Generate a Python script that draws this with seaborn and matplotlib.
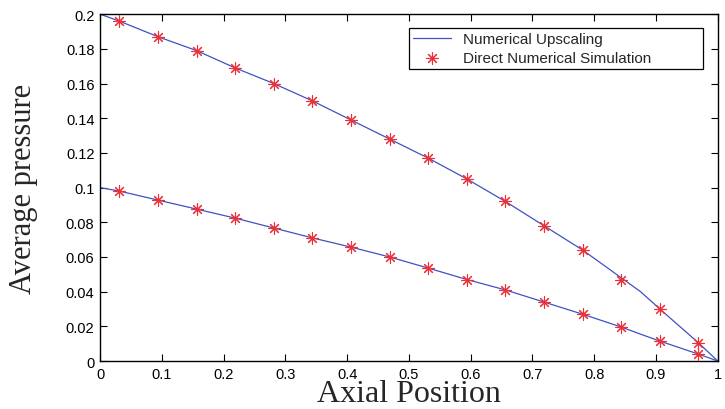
import numpy as np
import pandas as pd
import matplotlib
matplotlib.use("Agg")
import matplotlib.pyplot as plt
import seaborn as sns

# Data
x_pts = [0.03125, 0.09375, 0.15625, 0.21875, 0.28125, 0.34375, 0.40625, 0.46875,
         0.53125, 0.59375, 0.65625, 0.71875, 0.78125, 0.84375, 0.90625, 0.96875]
upper_dns = [0.196, 0.187, 0.179, 0.169, 0.160, 0.150, 0.139, 0.128,
             0.117, 0.105, 0.092, 0.078, 0.064, 0.047, 0.030, 0.0105]
lower_dns = [0.098, 0.0928, 0.0876, 0.0824, 0.0767, 0.071, 0.0657, 0.060,
             0.0536, 0.047, 0.041, 0.034, 0.027, 0.0196, 0.0115, 0.004]

x_line = [0.0, 0.03125, 0.09375, 0.15625, 0.21875, 0.28125, 0.34375, 0.40625, 0.46875,
          0.53125, 0.59375, 0.65625, 0.71875, 0.78125, 0.84375, 0.875, 0.90625, 0.96875, 1.0]
upper_line = [0.2, 0.196, 0.187, 0.179, 0.169, 0.160, 0.150, 0.139, 0.128,
              0.117, 0.105, 0.092, 0.078, 0.064, 0.048, 0.040, 0.030, 0.0105, 0.0]
lower_line = [0.1, 0.098, 0.0928, 0.0876, 0.0824, 0.0767, 0.071, 0.0657, 0.060,
              0.0536, 0.047, 0.041, 0.034, 0.027, 0.0196, 0.0155, 0.0115, 0.004, 0.0]

xticks = [0, 0.1, 0.2, 0.3, 0.4, 0.5, 0.6, 0.7, 0.8, 0.9, 1]
xticklabels = ["0", "0.1", "0.2", "0.3", "0.4", "0.5", "0.6", "0.7", "0.8", "0.9", "1"]
yticks = [0, 0.02, 0.04, 0.06, 0.08, 0.1, 0.12, 0.14, 0.16, 0.18, 0.2]
yticklabels = ["0", "0.02", "0.04", "0.06", "0.08", "0.1", "0.12", "0.14", "0.16", "0.18", "0.2"]

line_df = pd.concat([
    pd.DataFrame({"x": x_line, "y": upper_line, "curve": "upper"}),
    pd.DataFrame({"x": x_line, "y": lower_line, "curve": "lower"}),
])
pts_df = pd.concat([
    pd.DataFrame({"x": x_pts, "y": upper_dns, "curve": "upper"}),
    pd.DataFrame({"x": x_pts, "y": lower_dns, "curve": "lower"}),
])

sns.set_style("ticks")
plt.rcParams["font.family"] = ["Liberation Sans", "DejaVu Sans"]

fig = plt.figure(figsize=(7.25, 4.1), dpi=100)
ax = fig.add_axes([0.138, 0.117, 0.852, 0.846])

line_color = "#3f52c2"
mark_color = "#eb3038"

sns.lineplot(data=line_df, x="x", y="y", units="curve", estimator=None,
             color=line_color, linewidth=0.9, ax=ax, sort=False,
             label="Numerical Upscaling")
sns.scatterplot(data=pts_df, x="x", y="y", marker=(8, 2, 0), s=70,
                color=mark_color, edgecolor=mark_color, linewidth=0.8, ax=ax,
                label="Direct Numerical Simulation", zorder=3)

ax.set_xlim(0, 1)
ax.set_ylim(0, 0.2)
ax.set_xticks(xticks)
ax.set_xticklabels(xticklabels)
ax.set_yticks(yticks)
ax.set_yticklabels(yticklabels)
ax.tick_params(direction="in", length=5, width=0.8, top=True, right=True,
               labelsize=10.5, colors="black", pad=4)
for sp in ax.spines.values():
    sp.set_visible(True)
    sp.set_linewidth(1.0)
    sp.set_color("black")

ax.set_xlabel("Axial Position", fontsize=23, family=["Liberation Serif"], labelpad=-1)
ax.set_ylabel("Average pressure", fontsize=22, family=["Liberation Serif"], labelpad=20)

handles, labels = ax.get_legend_handles_labels()
uniq = {}
for h, l in zip(handles, labels):
    if l not in uniq:
        uniq[l] = h
leg = ax.legend(list(uniq.values()), list(uniq.keys()),
                loc="upper right", bbox_to_anchor=(0.500, 0.841, 0.476, 0.119),
                mode="expand", fontsize=11,
                frameon=True, fancybox=False, edgecolor="black", framealpha=1,
                borderpad=0.25, handlelength=2.5, labelspacing=0.35, borderaxespad=0,
                handletextpad=0.8)
leg.get_frame().set_linewidth(0.9)

fig.savefig("out.png", dpi=100)
